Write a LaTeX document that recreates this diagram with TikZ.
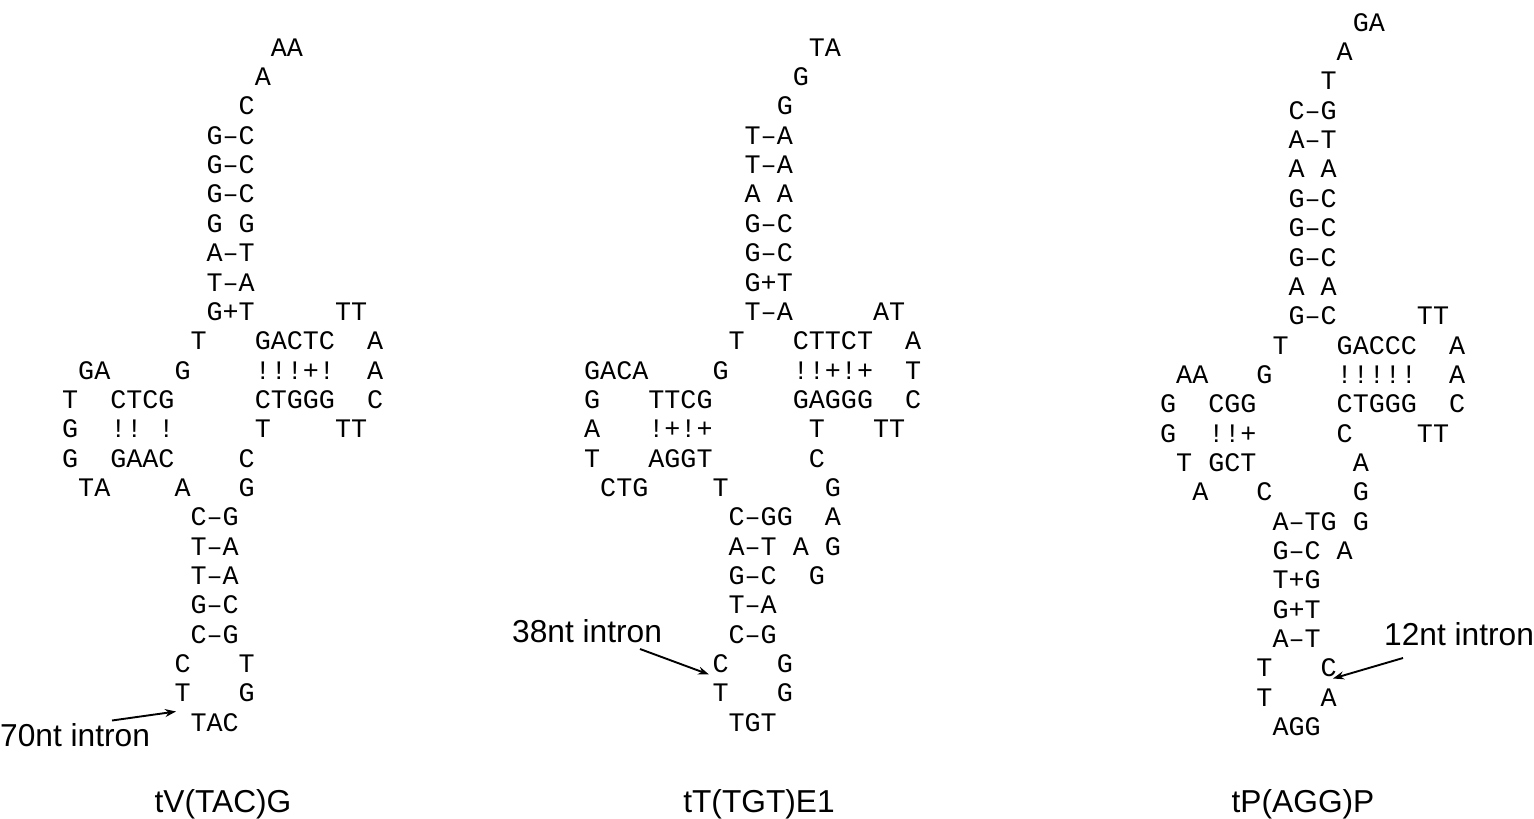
\documentclass[tikz,border=0pt]{standalone}
\usepackage{fontspec}
\setmainfont{Liberation Sans}
\newfontfamily\basefont{Liberation Mono}
\usetikzlibrary{arrows.meta}

\tikzset{
  nt/.style={font=\basefont\fontsize{26.75}{30}\selectfont, inner sep=0pt, anchor=base west, yshift=-8.7pt},
  lab/.style={font=\fontsize{31.7}{36}\selectfont, inner sep=0pt},
  arr/.style={line width=1.9pt, -{Stealth[length=11pt,width=8pt]}},
}

% one run of bases on the character grid: name, column, row, text
\newcommand\nt[4]{\node[nt] (#1) at ({#2-0.5},#3) {#4};}

\begin{document}
\begin{tikzpicture}[x=1pt,y=-1pt]
\useasboundingbox (0,0) rectangle (1534,819);

% ---------------- tV(TAC)G ----------------
\begin{scope}[shift={(70pt,-47.5pt)},x=16.05pt,y=-29.35pt]
\nt{v0}{13}{0}{AA}
\nt{v1}{12}{1}{A}
\nt{v2}{11}{2}{C}
\nt{v3}{9}{3}{G–C}
\nt{v4}{9}{4}{G–C}
\nt{v5}{9}{5}{G–C}
\nt{v6a}{9}{6}{G}
\nt{v6b}{11}{6}{G}
\nt{v7}{9}{7}{A–T}
\nt{v8}{9}{8}{T–A}
\nt{v9a}{9}{9}{G+T}
\nt{v9b}{17}{9}{TT}
\nt{v10a}{8}{10}{T}
\nt{v10b}{12}{10}{GACTC}
\nt{v10c}{19}{10}{A}
\nt{v11a}{1}{11}{GA}
\nt{v11b}{7}{11}{G}
\nt{v11c}{12}{11}{!!!+!}
\nt{v11d}{19}{11}{A}
\nt{v12a}{0}{12}{T}
\nt{v12b}{3}{12}{CTCG}
\nt{v12c}{12}{12}{CTGGG}
\nt{v12d}{19}{12}{C}
\nt{v13a}{0}{13}{G}
\nt{v13b}{3}{13}{!!}
\nt{v13c}{6}{13}{!}
\nt{v13d}{12}{13}{T}
\nt{v13e}{17}{13}{TT}
\nt{v14a}{0}{14}{G}
\nt{v14b}{3}{14}{GAAC}
\nt{v14c}{11}{14}{C}
\nt{v15a}{1}{15}{TA}
\nt{v15b}{7}{15}{A}
\nt{v15c}{11}{15}{G}
\nt{v16}{8}{16}{C–G}
\nt{v17}{8}{17}{T–A}
\nt{v18}{8}{18}{T–A}
\nt{v19}{8}{19}{G–C}
\nt{v20}{8}{20}{C–G}
\nt{v21a}{7}{21}{C}
\nt{v21b}{11}{21}{T}
\nt{v22a}{7}{22}{T}
\nt{v22b}{11}{22}{G}
\nt{v23}{8}{23}{TAC}
\end{scope}

% ---------------- tT(TGT)E1 ----------------
\begin{scope}[shift={(592pt,-47.5pt)},x=16.05pt,y=-29.35pt]
\nt{t0}{14}{0}{TA}
\nt{t1}{13}{1}{G}
\nt{t2}{12}{2}{G}
\nt{t3}{10}{3}{T–A}
\nt{t4}{10}{4}{T–A}
\nt{t5a}{10}{5}{A}
\nt{t5b}{12}{5}{A}
\nt{t6}{10}{6}{G–C}
\nt{t7}{10}{7}{G–C}
\nt{t8}{10}{8}{G+T}
\nt{t9a}{10}{9}{T–A}
\nt{t9b}{18}{9}{AT}
\nt{t10a}{9}{10}{T}
\nt{t10b}{13}{10}{CTTCT}
\nt{t10c}{20}{10}{A}
\nt{t11a}{0}{11}{GACA}
\nt{t11b}{8}{11}{G}
\nt{t11c}{13}{11}{!!+!+}
\nt{t11d}{20}{11}{T}
\nt{t12a}{0}{12}{G}
\nt{t12b}{4}{12}{TTCG}
\nt{t12c}{13}{12}{GAGGG}
\nt{t12d}{20}{12}{C}
\nt{t13a}{0}{13}{A}
\nt{t13b}{4}{13}{!+!+}
\nt{t13c}{14}{13}{T}
\nt{t13d}{18}{13}{TT}
\nt{t14a}{0}{14}{T}
\nt{t14b}{4}{14}{AGGT}
\nt{t14c}{14}{14}{C}
\nt{t15a}{1}{15}{CTG}
\nt{t15b}{8}{15}{T}
\nt{t15c}{15}{15}{G}
\nt{t16a}{9}{16}{C–GG}
\nt{t16b}{15}{16}{A}
\nt{t17a}{9}{17}{A–T}
\nt{t17b}{13}{17}{A}
\nt{t17c}{15}{17}{G}
\nt{t18a}{9}{18}{G–C}
\nt{t18b}{14}{18}{G}
\nt{t19}{9}{19}{T–A}
\nt{t20}{9}{20}{C–G}
\nt{t21a}{8}{21}{C}
\nt{t21b}{12}{21}{G}
\nt{t22a}{8}{22}{T}
\nt{t22b}{12}{22}{G}
\nt{t23}{9}{23}{TGT}
\end{scope}

% ---------------- tP(AGG)P ----------------
\begin{scope}[shift={(1168pt,-22.5pt)},x=16.05pt,y=-29.35pt]
\nt{p0}{12}{0}{GA}
\nt{p1}{11}{1}{A}
\nt{p2}{10}{2}{T}
\nt{p3}{8}{3}{C–G}
\nt{p4}{8}{4}{A–T}
\nt{p5a}{8}{5}{A}
\nt{p5b}{10}{5}{A}
\nt{p6}{8}{6}{G–C}
\nt{p7}{8}{7}{G–C}
\nt{p8}{8}{8}{G–C}
\nt{p9a}{8}{9}{A}
\nt{p9b}{10}{9}{A}
\nt{p10a}{8}{10}{G–C}
\nt{p10b}{16}{10}{TT}
\nt{p11a}{7}{11}{T}
\nt{p11b}{11}{11}{GACCC}
\nt{p11c}{18}{11}{A}
\nt{p12a}{1}{12}{AA}
\nt{p12b}{6}{12}{G}
\nt{p12c}{11}{12}{!!!!!}
\nt{p12d}{18}{12}{A}
\nt{p13a}{0}{13}{G}
\nt{p13b}{3}{13}{CGG}
\nt{p13c}{11}{13}{CTGGG}
\nt{p13d}{18}{13}{C}
\nt{p14a}{0}{14}{G}
\nt{p14b}{3}{14}{!!+}
\nt{p14c}{11}{14}{C}
\nt{p14d}{16}{14}{TT}
\nt{p15a}{1}{15}{T}
\nt{p15b}{3}{15}{GCT}
\nt{p15c}{12}{15}{A}
\nt{p16a}{2}{16}{A}
\nt{p16b}{6}{16}{C}
\nt{p16c}{12}{16}{G}
\nt{p17a}{7}{17}{A–TG}
\nt{p17b}{12}{17}{G}
\nt{p18a}{7}{18}{G–C}
\nt{p18b}{11}{18}{A}
\nt{p19}{7}{19}{T+G}
\nt{p20}{7}{20}{G+T}
\nt{p21}{7}{21}{A–T}
\nt{p22a}{6}{22}{T}
\nt{p22b}{10}{22}{C}
\nt{p23a}{6}{23}{T}
\nt{p23b}{10}{23}{A}
\nt{p24}{7}{24}{AGG}
\end{scope}

% intron labels and their pointers
\node[lab, anchor=base west] (vintron) at (0,746) {70nt intron};
\node[lab, anchor=base west] (tintron) at (512,642) {38nt intron};
\node[lab, anchor=base west] (pintron) at (1384,645) {12nt intron};

\coordinate (vfrom) at (112,720.5);
\coordinate (vto) at (176,711.5);
\coordinate (tfrom) at (640,649);
\coordinate (tto) at (709,674.5);
\coordinate (pfrom) at (1403,658);
\coordinate (pto) at (1333,678.5);
\draw[arr] (vfrom) -- (vto);
\draw[arr] (tfrom) -- (tto);
\draw[arr] (pfrom) -- (pto);

% tRNA names
\node[lab, anchor=base] (vname) at (223,812) {tV(TAC)G};
\node[lab, anchor=base] (tname) at (759,812) {tT(TGT)E1};
\node[lab, anchor=base] (pname) at (1303,812) {tP(AGG)P};
\end{tikzpicture}
\end{document}
